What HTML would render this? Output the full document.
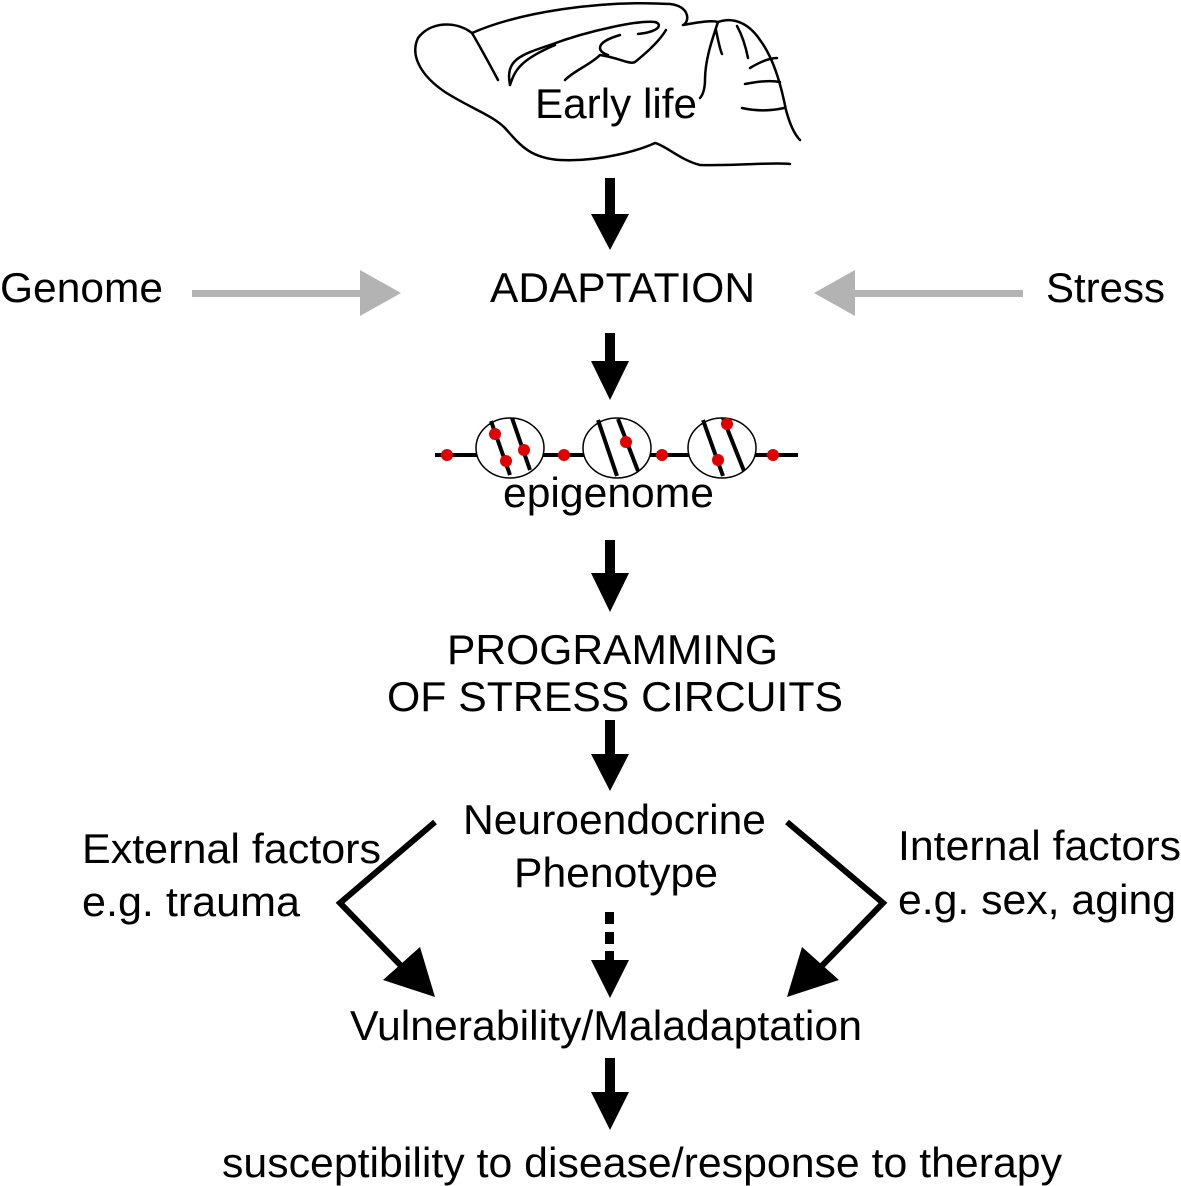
<!DOCTYPE html>
<html><head><meta charset="utf-8"><style>
html,body{margin:0;padding:0;background:#fff;}
svg{display:block;}
text{font-family:"Liberation Sans",Arial,sans-serif;fill:#000;font-size:42px;}
</style></head><body>
<svg width="1181" height="1186" viewBox="0 0 1181 1186" xmlns="http://www.w3.org/2000/svg">
<!-- brain -->
<g fill="none" stroke="#000" stroke-width="2.5" stroke-linecap="round" stroke-linejoin="round">
<path d="M472,33 C520,12 600,0 670,4 C690,6 690,22 683,25 C700,22 712,20 718,22"/>
<path d="M472,33 C455,20 430,22 418,38 C410,55 420,75 445,92 C470,108 492,115 505,128 C520,145 530,158 560,160 C600,162 640,150 655,143 C665,145 680,160 700,165 C740,166 770,162 790,164"/>
<path d="M472,33 C482,50 490,65 498,80"/>
<path d="M718,22 C735,16 750,25 760,40 C775,60 782,90 786,110 C790,125 795,135 800,140"/>
<path d="M718,22 C712,40 705,60 705,80 C705,90 702,96 700,98"/>
<path d="M716,30 C718,40 720,50 722,54"/>
<path d="M737,26 C742,35 746,48 748,58"/>
<path d="M750,68 C760,62 770,58 777,58"/>
<path d="M745,84 C755,82 770,80 780,82"/>
<path d="M742,108 C760,112 775,110 784,108"/>
<path d="M510,85 C505,60 520,55 550,45 C590,30 640,20 655,22 C662,24 660,30 645,33 L638,34"/>
<path d="M620,35 C610,38 600,42 600,48 C600,52 605,54 608,55"/>
<path d="M510,85 C515,70 520,60 555,45" />
<path d="M565,80 C575,70 590,65 600,55 C620,58 630,65 635,62 C650,50 660,40 666,30"/>
</g>
<text x="535" y="118" textLength="162" lengthAdjust="spacingAndGlyphs">Early life</text>

<!-- black arrows -->
<g fill="#000">
<rect x="605" y="178" width="10" height="38"/><polygon points="591,214 629,214 610,250"/>
<rect x="605" y="333" width="10" height="30"/><polygon points="591,361 629,361 610,400"/>
<rect x="605" y="540" width="10" height="35"/><polygon points="591,573 629,573 610,612"/>
<rect x="605" y="720" width="10" height="36"/><polygon points="591,754 629,754 610,791"/>
<rect x="605" y="912" width="9" height="12"/><rect x="605" y="932" width="9" height="12"/><rect x="605" y="951" width="9" height="12"/>
<polygon points="591,960 629,960 610,998"/>
<rect x="605" y="1058" width="10" height="36"/><polygon points="591,1092 629,1092 610,1130"/>
</g>
<!-- gray arrows -->
<g fill="#b3b3b3">
<rect x="192" y="290" width="170" height="7"/><polygon points="360,270 360,316 401,293"/>
<rect x="853" y="290" width="170" height="7"/><polygon points="855,270 855,316 814,293"/>
</g>
<text x="0" y="302" textLength="163" lengthAdjust="spacingAndGlyphs">Genome</text>
<text x="490" y="302" textLength="265" lengthAdjust="spacingAndGlyphs">ADAPTATION</text>
<text x="1046" y="302" textLength="119" lengthAdjust="spacingAndGlyphs">Stress</text>

<!-- epigenome -->
<line x1="435" y1="455" x2="798" y2="455" stroke="#000" stroke-width="4"/>
<g stroke="#000" fill="#fff" stroke-width="1.5">
<ellipse cx="510" cy="448" rx="34" ry="30"/>
<ellipse cx="617" cy="448" rx="34" ry="30"/>
<ellipse cx="722" cy="448" rx="34" ry="30"/>
</g>
<g stroke="#000" stroke-width="4">
<line x1="491" y1="421" x2="510" y2="475"/><line x1="512" y1="418" x2="530" y2="470"/>
<line x1="598" y1="420" x2="617" y2="476"/><line x1="618" y1="419" x2="638" y2="471"/>
<line x1="703" y1="420" x2="723" y2="476"/><line x1="723" y1="418" x2="744" y2="471"/>
</g>
<g fill="#e00000">
<circle cx="447" cy="455" r="6"/><circle cx="495" cy="434" r="6"/><circle cx="506" cy="461" r="6"/><circle cx="524" cy="450" r="6"/>
<circle cx="564" cy="455" r="6"/><circle cx="626" cy="442" r="6"/><circle cx="662" cy="455" r="6"/>
<circle cx="727" cy="424" r="6"/><circle cx="718" cy="460" r="6"/><circle cx="773" cy="455" r="6"/>
</g>
<text x="503" y="507" textLength="211" lengthAdjust="spacingAndGlyphs">epigenome</text>

<text x="447" y="664" textLength="331" lengthAdjust="spacingAndGlyphs">PROGRAMMING</text>
<text x="387" y="711" textLength="456" lengthAdjust="spacingAndGlyphs">OF STRESS CIRCUITS</text>
<text x="463" y="834" textLength="303" lengthAdjust="spacingAndGlyphs">Neuroendocrine</text>
<text x="514" y="887" textLength="204" lengthAdjust="spacingAndGlyphs">Phenotype</text>

<!-- bent arrows -->
<g fill="none" stroke="#000" stroke-width="6" stroke-linejoin="miter">
<polyline points="435,822 340,903 410,975"/>
<polyline points="787,822 883,903 813,975"/>
</g>
<g fill="#000">
<polygon points="435,997 383,980 420,947"/>
<polygon points="787,997 839,980 802,947"/>
</g>
<text x="82" y="863" textLength="299" lengthAdjust="spacingAndGlyphs">External factors</text>
<text x="82" y="916" textLength="218" lengthAdjust="spacingAndGlyphs">e.g. trauma</text>
<text x="898" y="860" textLength="283" lengthAdjust="spacingAndGlyphs">Internal factors</text>
<text x="898" y="914" textLength="278" lengthAdjust="spacingAndGlyphs">e.g. sex, aging</text>

<text x="350" y="1040" textLength="512" lengthAdjust="spacingAndGlyphs">Vulnerability/Maladaptation</text>
<text x="222" y="1177" textLength="840" lengthAdjust="spacingAndGlyphs">susceptibility to disease/response to therapy</text>
</svg>
</body></html>
